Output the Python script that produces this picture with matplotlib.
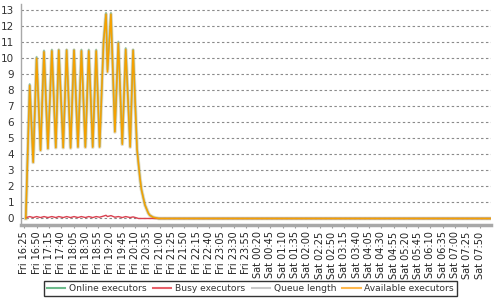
import matplotlib
matplotlib.use("Agg")
import matplotlib.pyplot as plt
from matplotlib.lines import Line2D

# ---- data ----
tick_labels = [
    "Fri 16:25", "Fri 16:50", "Fri 17:15", "Fri 17:40", "Fri 18:05", "Fri 18:30",
    "Fri 18:55", "Fri 19:20", "Fri 19:45", "Fri 20:10", "Fri 20:35", "Fri 21:00",
    "Fri 21:25", "Fri 21:50", "Fri 22:15", "Fri 22:40", "Fri 23:05", "Fri 23:30",
    "Fri 23:55", "Sat 00:20", "Sat 00:45", "Sat 01:10", "Sat 01:35", "Sat 02:00",
    "Sat 02:25", "Sat 02:50", "Sat 03:15", "Sat 03:40", "Sat 04:05", "Sat 04:30",
    "Sat 04:55", "Sat 05:20", "Sat 05:45", "Sat 06:10", "Sat 06:35", "Sat 07:00",
    "Sat 07:25", "Sat 07:50",
]

times = [
    "Fri 16:28", "Fri 16:36", "Fri 16:43", "Fri 16:50", "Fri 16:58", "Fri 17:05",
    "Fri 17:13", "Fri 17:21", "Fri 17:29", "Fri 17:35", "Fri 17:44", "Fri 17:51",
    "Fri 17:59", "Fri 18:06", "Fri 18:14", "Fri 18:21", "Fri 18:29", "Fri 18:36",
    "Fri 18:44", "Fri 18:51", "Fri 18:58", "Fri 19:06", "Fri 19:11", "Fri 19:14",
    "Fri 19:21", "Fri 19:29", "Fri 19:36", "Fri 19:44", "Fri 19:51", "Fri 20:00",
    "Fri 20:06", "Fri 20:14", "Fri 20:17", "Fri 20:20", "Fri 20:23", "Fri 20:27",
    "Fri 20:30", "Fri 20:34", "Fri 20:37", "Fri 20:40", "Fri 20:47", "Fri 20:58",
    "Sat 08:13",
]

available_executors = [
    0.0, 8.3, 3.5, 10.0, 4.25, 10.4,
    4.36, 10.46, 4.42, 10.5, 4.42, 10.5,
    4.4, 10.5, 4.45, 10.46, 4.45, 10.46,
    4.45, 10.46, 4.46, 11.0, 12.75, 9.15,
    12.75, 5.4, 10.95, 4.63, 10.55, 4.46,
    10.5, 4.3, 3.4, 2.5, 1.8, 1.25,
    0.85, 0.55, 0.33, 0.2, 0.07, 0.0,
    0.0,
]

online_executors = [
    0.0, 8.4, 3.55, 10.1, 4.3, 10.5,
    4.4, 10.55, 4.45, 10.55, 4.45, 10.55,
    4.45, 10.55, 4.5, 10.55, 4.5, 10.55,
    4.5, 10.55, 4.5, 11.1, 12.85, 9.3,
    12.85, 5.45, 11.05, 4.7, 10.65, 4.5,
    10.55, 4.35, 3.4, 2.5, 1.8, 1.25,
    0.85, 0.55, 0.33, 0.2, 0.07, 0.0,
    0.0,
]

queue_length = [
    0.0, 8.3, 3.5, 10.0, 4.25, 10.4,
    4.36, 10.46, 4.42, 10.5, 4.42, 10.5,
    4.4, 10.5, 4.45, 10.46, 4.45, 10.46,
    4.45, 10.46, 4.46, 11.0, 12.75, 9.15,
    12.75, 5.4, 10.95, 4.63, 10.55, 4.46,
    10.5, 4.3, 3.4, 2.5, 1.8, 1.25,
    0.85, 0.55, 0.33, 0.2, 0.07, 0.0,
    0.0,
]

busy_executors = [
    0.05, 0.12, 0.06, 0.12, 0.06, 0.12,
    0.06, 0.12, 0.06, 0.12, 0.06, 0.12,
    0.06, 0.12, 0.06, 0.12, 0.06, 0.12,
    0.06, 0.12, 0.08, 0.15, 0.2, 0.12,
    0.18, 0.08, 0.12, 0.06, 0.12, 0.06,
    0.1, 0.03, 0.0, 0.0, 0.0, 0.0,
    0.0, 0.0, 0.0, 0.0, 0.0, 0.0,
    0.0,
]

y_ticks = list(range(0, 14))


def to_minutes(label):
    day, hm = label.split()
    h, m = map(int, hm.split(":"))
    total = h * 60 + m + (24 * 60 if day == "Sat" else 0)
    return total - (16 * 60 + 25)


x = [to_minutes(t) for t in times]
tick_x = [to_minutes(t) for t in tick_labels]

# ---- figure ----
fig = plt.figure(figsize=(5, 3), dpi=100)
ax = fig.add_axes([21 / 500, 1 - 224.5 / 300, 470 / 500, (224.5 - 4) / 300])

GREEN = "#4f9e6e"
RED = "#d9404f"
GREY = "#c2b88a"
ORANGE = "#f5a000"

for yv in y_ticks:
    ax.axhline(yv, color="#8a8a8a", lw=0.8, ls=(0, (2.2, 2.2)), zorder=0)

ax.plot(x, queue_length, color=GREY, lw=2.6, alpha=0.5, zorder=2)
ax.plot(x, online_executors, color=GREEN, lw=1.3, alpha=0.5, zorder=3)
ax.plot(x, busy_executors, color=RED, lw=1.0, zorder=4)
ax.plot(x, available_executors, color=ORANGE, lw=1.1, zorder=5)

ax.set_xlim(-6.7, 948)
ax.set_ylim(-0.375, 13.39)
ax.set_yticks(y_ticks)
ax.set_yticklabels([str(v) for v in y_ticks], fontsize=7.5, color="#333333")
ax.set_xticks(tick_x)
ax.set_xticklabels(tick_labels, rotation=90, fontsize=7, color="#222222")
ax.tick_params(axis="y", length=0, pad=5)
ax.tick_params(axis="x", length=2, color="#9a9a9a", pad=3)

for s in ("top", "right"):
    ax.spines[s].set_visible(False)
ax.spines["left"].set_color("#a8a8a8")
ax.spines["left"].set_linewidth(1.0)
ax.spines["bottom"].set_color("#a8a8a8")
ax.spines["bottom"].set_linewidth(2.5)

handles = [
    Line2D([0], [0], color="#6dbb8c", lw=1.5),
    Line2D([0], [0], color="#e8606a", lw=1.5),
    Line2D([0], [0], color="#c8c8c8", lw=1.5),
    Line2D([0], [0], color="#ffb84d", lw=1.5),
]
leg = fig.legend(
    handles,
    ["Online executors", "Busy executors", "Queue length", "Available executors"],
    loc="center", bbox_to_anchor=(250.5 / 500, 1 - 288.5 / 300), ncol=4,
    fontsize=6.6, frameon=True, fancybox=False, handlelength=2.0,
    handletextpad=0.4, columnspacing=0.7, borderpad=0.35, labelcolor="#333333",
)
leg.get_frame().set_edgecolor("black")
leg.get_frame().set_linewidth(1.0)

fig.savefig("out.png", dpi=100)
